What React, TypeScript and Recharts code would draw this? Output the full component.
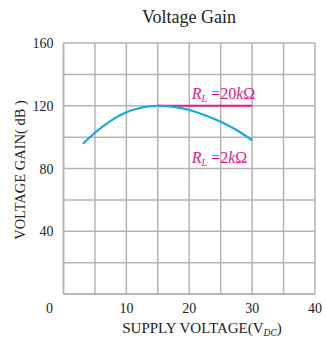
import React from 'react';
import { LineChart, Line, XAxis, YAxis, CartesianGrid, ReferenceDot } from 'recharts';

const supplyVoltage2k = [3.1, 5, 7.5, 10, 12.5, 15, 17.5, 20, 22.5, 25, 27.5, 30];
const gain2k = [95.8, 102.8, 110.4, 115.8, 118.9, 120, 119.3, 117.3, 114, 109.8, 104.5, 98];
const supplyVoltage20k = [15, 30];
const gain20k = [120, 120];
const xTicks = [0, 5, 10, 15, 20, 25, 30, 35, 40];
const yTicks = [0, 20, 40, 60, 80, 100, 120, 140, 160];
const xLabelTicks = [0, 10, 20, 30, 40];
const yLabelTicks = [40, 80, 120, 160];

const data2k = supplyVoltage2k.map((v, i) => ({ v, g: gain2k[i] }));
const data20k = supplyVoltage20k.map((v, i) => ({ v, g: gain20k[i] }));

const FONT = '"Liberation Serif", "Times New Roman", serif';
const PINK = '#e6197f';
const BLUE = '#12a9e6';
const GRID = '#b3b3b3';

const XTick = (props: any) => {
  const { x, payload } = props;
  if (!xLabelTicks.includes(payload.value)) return null;
  const dx = payload.value === 0 ? -14 : 0;
  return (
    <text x={x + dx} y={313} textAnchor="middle" fontFamily={FONT} fontSize={14} fill="#222">
      {payload.value}
    </text>
  );
};

const YTick = (props: any) => {
  const { x, y, payload } = props;
  if (!yLabelTicks.includes(payload.value)) return null;
  return (
    <text x={x - 2} y={y + 5} textAnchor="end" fontFamily={FONT} fontSize={14} fill="#222">
      {payload.value}
    </text>
  );
};

const rlLabel = (val: string) => (p: any) => (
  <text x={p.cx} y={p.cy} fontFamily={FONT} fontSize={16} fill={PINK}>
    <tspan fontStyle="italic">R</tspan>
    <tspan fontStyle="italic" fontSize={10} dy={3}>L</tspan>
    <tspan dy={-3}> ={val}</tspan>
    <tspan fontStyle="italic">k</tspan>
    <tspan>Ω</tspan>
  </text>
);

export default function App() {
  return (
    <div style={{ position: 'absolute', left: 0, top: 0, width: 326, height: 342, background: '#fff' }}>
      <LineChart width={326} height={342} margin={{ top: 43, right: 11, bottom: 0, left: 0 }}>
        <text x={189} y={23} textAnchor="middle" fontFamily={FONT} fontSize={18} fill="#222">
          Voltage Gain
        </text>
        <CartesianGrid stroke={GRID} strokeWidth={1.5} />
        <XAxis
          type="number"
          dataKey="v"
          domain={[0, 40]}
          ticks={xTicks}
          interval={0}
          tick={<XTick />}
          tickLine={false}
          axisLine={{ stroke: GRID, strokeWidth: 1.5 }}
          height={48}
          allowDataOverflow
        />
        <YAxis
          type="number"
          dataKey="g"
          domain={[0, 160]}
          ticks={yTicks}
          interval={0}
          tick={<YTick />}
          tickLine={false}
          axisLine={{ stroke: GRID, strokeWidth: 1.5 }}
          width={63.5}
        />
        <Line data={data20k} dataKey="g" stroke={PINK} strokeWidth={2.2} dot={false} isAnimationActive={false} />
        <Line data={data2k} dataKey="g" type="natural" stroke={BLUE} strokeWidth={2.2} dot={false} isAnimationActive={false} />
        <ReferenceDot x={20.4} y={124.4} r={0} shape={rlLabel('20')} />
        <ReferenceDot x={20.4} y={83.2} r={0} shape={rlLabel('2')} />
        <text x={20} y={170} transform="rotate(-90 20 170)" textAnchor="middle" dominantBaseline="central" fontFamily={FONT} fontSize={14.5} fill="#222">
          VOLTAGE GAIN( dB )
        </text>
        <text x={202} y={333} textAnchor="middle" fontFamily={FONT} fontSize={15} fill="#222">
          SUPPLY VOLTAGE(V
          <tspan fontStyle="italic" fontSize={9.5} dy={3}>DC</tspan>
          <tspan dy={-3}>)</tspan>
        </text>
      </LineChart>
    </div>
  );
}
